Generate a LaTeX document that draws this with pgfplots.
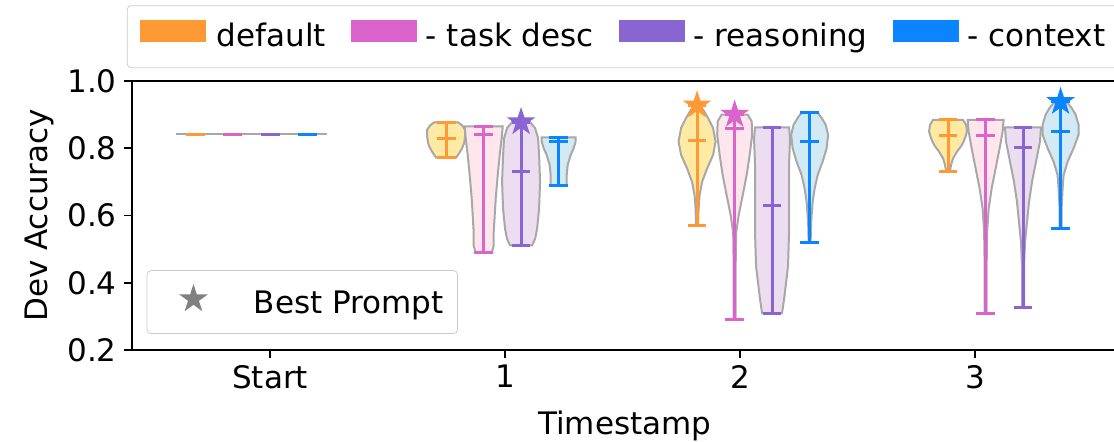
\documentclass[border=0pt]{standalone}
\usepackage{pgfplots}
\pgfplotsset{compat=1.18}
\usepgfplotslibrary{fillbetween}
\usepackage{pgfplotstable}
\usepackage{fontspec}
\setmainfont{DejaVu Sans}

\definecolor{cO}{RGB}{255,153,51}
\definecolor{cP}{RGB}{218,100,204}
\definecolor{cU}{RGB}{137,101,210}
\definecolor{cB}{RGB}{10,132,255}
\definecolor{fO}{RGB}{255,234,163}
\definecolor{fP}{RGB}{255,230,236}
\definecolor{fU}{RGB}{236,222,240}
\definecolor{fB}{RGB}{210,234,244}
\definecolor{vedge}{RGB}{168,168,168}
\definecolor{starg}{RGB}{128,128,128}

\pgfdeclareplotmark{fstar}{%
  \pgfpathmoveto{\pgfpointpolar{90}{\pgfplotmarksize}}%
  \pgfpathlineto{\pgfpointpolar{126}{0.382\pgfplotmarksize}}%
  \pgfpathlineto{\pgfpointpolar{162}{\pgfplotmarksize}}%
  \pgfpathlineto{\pgfpointpolar{198}{0.382\pgfplotmarksize}}%
  \pgfpathlineto{\pgfpointpolar{234}{\pgfplotmarksize}}%
  \pgfpathlineto{\pgfpointpolar{270}{0.382\pgfplotmarksize}}%
  \pgfpathlineto{\pgfpointpolar{306}{\pgfplotmarksize}}%
  \pgfpathlineto{\pgfpointpolar{342}{0.382\pgfplotmarksize}}%
  \pgfpathlineto{\pgfpointpolar{18}{\pgfplotmarksize}}%
  \pgfpathlineto{\pgfpointpolar{54}{0.382\pgfplotmarksize}}%
  \pgfpathclose\pgfusepathqfill}

% violin profiles: y value, half width (in reference pixels; 235 px = 1 x unit)
\pgfplotstableread{
y w
0.772 10
0.785 13
0.800 16
0.815 18
0.835 19
0.855 19
0.868 16
0.877 12
}\tOa
\pgfplotstableread{
y w
0.489 8
0.510 10
0.550 10
0.600 11
0.650 12
0.720 14
0.780 16
0.830 18
0.865 19
}\tPa
\pgfplotstableread{
y w
0.511 11
0.530 14
0.560 16
0.620 18
0.700 19
0.780 18
0.830 17
0.860 14
0.878 9
}\tUa
\pgfplotstableread{
y w
0.690 8
0.720 8
0.750 9
0.780 12
0.800 15
0.820 17
0.832 17
}\tBa
\pgfplotstableread{
y w
0.571 1
0.620 1.5
0.660 2.5
0.700 5
0.740 10
0.780 16
0.820 18.5
0.860 16
0.890 11
0.910 7
0.928 3
}\tOb
\pgfplotstableread{
y w
0.290 1
0.450 1
0.550 1.5
0.600 4
0.660 8
0.720 12
0.780 15
0.840 17.5
0.880 17
0.900 13
}\tPb
\pgfplotstableread{
y w
0.310 10
0.350 12
0.400 14
0.450 16
0.550 17
0.650 17
0.750 17
0.830 18
0.862 17
}\tUb
\pgfplotstableread{
y w
0.520 1
0.580 1.5
0.640 3
0.680 5
0.720 8
0.760 13
0.800 17
0.840 18.5
0.870 16
0.890 12
0.906 8
}\tBb
\pgfplotstableread{
y w
0.732 2
0.750 3
0.770 5
0.790 9
0.810 14
0.830 17
0.850 19
0.870 18
0.884 15
}\tOc
\pgfplotstableread{
y w
0.310 1
0.450 1
0.550 1.5
0.620 3
0.680 6
0.740 10
0.800 14
0.850 17
0.884 18
}\tPc
\pgfplotstableread{
y w
0.327 1
0.450 1
0.520 2
0.580 4
0.640 6
0.700 9
0.760 13
0.820 17
0.862 18
}\tUc
\pgfplotstableread{
y w
0.561 1
0.620 1
0.680 2
0.720 3
0.760 7
0.800 13
0.840 18
0.870 18
0.900 15
0.920 11
0.938 6
}\tBc

% #1 id, #2 centre, #3 line colour, #4 fill colour, #5 table, #6 min, #7 max, #8 mean
\newcommand\violin[8]{%
  \addplot[name path=R#1, draw=none] table[x expr={#2+\thisrow{w}/235}, y=y] {#5};
  \addplot[name path=L#1, draw=none] table[x expr={#2-\thisrow{w}/235}, y=y] {#5};
  \addplot[fill=#4, draw=vedge, line width=1pt] fill between[of=R#1 and L#1, reverse=true];
  \addplot[#3, line width=1.5pt] table[row sep=\\, x expr={#2+\thisrow{d}}, y=y] {d y\\ 0 #6\\ 0 #7\\};
  \addplot[#3, line width=1.5pt] table[row sep=\\, x expr={#2+\thisrow{d}}, y=y] {d y\\ -0.04 #6\\ 0.04 #6\\};
  \addplot[#3, line width=1.5pt] table[row sep=\\, x expr={#2+\thisrow{d}}, y=y] {d y\\ -0.04 #7\\ 0.04 #7\\};
  \addplot[#3, line width=1.5pt] table[row sep=\\, x expr={#2+\thisrow{d}}, y=y] {d y\\ -0.04 #8\\ 0.04 #8\\};
}
% #1 centre, #2 colour, #3 value
\newcommand\flatviolin[3]{%
  \addplot[vedge, line width=1pt] table[row sep=\\, x expr={#1+\thisrow{d}}, y=y] {d y\\ -0.081 #3\\ 0.081 #3\\};
  \addplot[#2, line width=1.5pt] table[row sep=\\, x expr={#1+\thisrow{d}}, y=y] {d y\\ -0.04 #3\\ 0.04 #3\\};
}

\begin{document}
\begin{tikzpicture}[font=\fontsize{15.5}{18}\selectfont]
\begin{axis}[
  scale only axis, width=493pt, height=134.5pt,
  xmin=-0.589, xmax=3.607, ymin=0.2, ymax=1.0,
  xtick={0,1,2,3}, xticklabels={Start,1,2,3},
  ytick={0.2,0.4,0.6,0.8,1.0},
  yticklabel style={/pgf/number format/.cd, fixed, fixed zerofill, precision=1, assume math mode=true},
  tick pos=left, tick align=outside, major tick length=4pt,
  tick style={black, line width=0.8pt},
  axis line style={black, line width=0.9pt},
  xlabel={Timestamp}, ylabel={Dev Accuracy},
  xlabel style={yshift=-4.5pt},
  legend columns=4,
  legend style={at={(-0.005,1.048)}, anchor=south west, draw=black!20, rounded corners=2pt,
    fill=white, inner xsep=6.5pt, inner ysep=7pt,
    nodes={inner sep=0pt, text height=11.5pt, text depth=3.5pt},
    /tikz/every even column/.append style={column sep=12.5pt}},
]
\addlegendimage{legend image code/.code={\fill[cO, sharp corners] (0pt,-1.2pt) rectangle (32.5pt,9.3pt); \path (38pt,0pt);}}
\addlegendentry{default}
\addlegendimage{legend image code/.code={\fill[cP, sharp corners] (0pt,-1.2pt) rectangle (32.5pt,9.3pt); \path (37pt,0pt);}}
\addlegendentry{- task desc}
\addlegendimage{legend image code/.code={\fill[cU, sharp corners] (0pt,-1.2pt) rectangle (32.5pt,9.3pt); \path (37pt,0pt);}}
\addlegendentry{- reasoning}
\addlegendimage{legend image code/.code={\fill[cB, sharp corners] (0pt,-1.2pt) rectangle (32.5pt,9.3pt); \path (37pt,0pt);}}
\addlegendentry{- context}

% Start
\flatviolin{-0.319}{cO}{0.842}
\flatviolin{-0.159}{cP}{0.842}
\flatviolin{0.000}{cU}{0.842}
\flatviolin{0.160}{cB}{0.842}
% Timestamp 1
\violin{oa}{0.749}{cO}{fO}{\tOa}{0.772}{0.877}{0.829}
\violin{pa}{0.909}{cP}{fP}{\tPa}{0.489}{0.865}{0.842}
\violin{ua}{1.068}{cU}{fU}{\tUa}{0.511}{0.878}{0.732}
\violin{ba}{1.228}{cB}{fB}{\tBa}{0.690}{0.832}{0.819}
% Timestamp 2
\violin{ob}{1.817}{cO}{fO}{\tOb}{0.571}{0.928}{0.822}
\violin{pb}{1.977}{cP}{fP}{\tPb}{0.290}{0.900}{0.860}
\violin{ub}{2.136}{cU}{fU}{\tUb}{0.310}{0.862}{0.631}
\violin{bb}{2.296}{cB}{fB}{\tBb}{0.520}{0.906}{0.819}
% Timestamp 3
\violin{oc}{2.885}{cO}{fO}{\tOc}{0.732}{0.884}{0.839}
\violin{pc}{3.045}{cP}{fP}{\tPc}{0.310}{0.884}{0.837}
\violin{uc}{3.204}{cU}{fU}{\tUc}{0.327}{0.862}{0.802}
\violin{bc}{3.364}{cB}{fB}{\tBc}{0.561}{0.938}{0.850}
% best prompts
\addplot[only marks, mark=fstar, mark size=7.5pt, color=cU] coordinates {(1.068,0.878)};
\addplot[only marks, mark=fstar, mark size=7.5pt, color=cO] coordinates {(1.817,0.928)};
\addplot[only marks, mark=fstar, mark size=7.5pt, color=cP] coordinates {(1.977,0.900)};
\addplot[only marks, mark=fstar, mark size=7.5pt, color=cB] coordinates {(3.364,0.938)};
\end{axis}
\begin{axis}[
  scale only axis, width=493pt, height=134.5pt, hide axis,
  xmin=0, xmax=1, ymin=0, ymax=1,
  legend style={at={(0.0152,0.0595)}, anchor=south west, draw=black!20, rounded corners=2pt,
    fill=white, inner xsep=7pt, inner ysep=6.75pt,
    nodes={inner sep=0pt, text height=11.5pt, text depth=3.5pt}},
]
\addlegendimage{only marks, mark=fstar, mark size=7.5pt, color=starg,
  legend image code/.code={\draw plot coordinates {(16pt,3pt)}; \path (0pt,0pt) (46pt,0pt);}}
\addlegendentry{Best Prompt}
\end{axis}
\pgfresetboundingbox
\useasboundingbox (-65.85pt,-46pt) rectangle (491.15pt,175pt);
\end{tikzpicture}
\end{document}
